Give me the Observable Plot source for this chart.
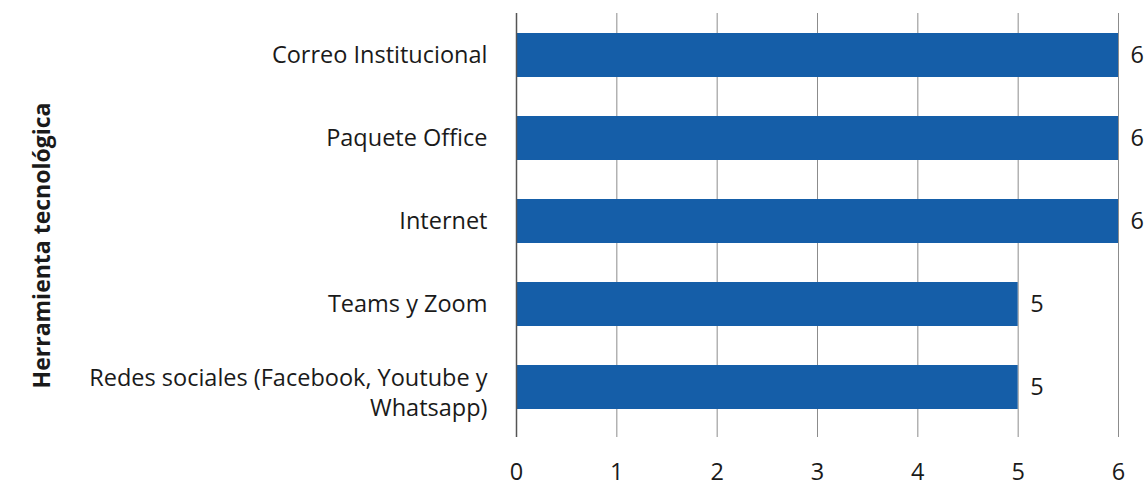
<!DOCTYPE html>
<html>
<head>
<meta charset="utf-8">
<script src="https://cdn.jsdelivr.net/npm/d3@7"></script>
<script src="https://cdn.jsdelivr.net/npm/@observablehq/plot@0.6"></script>
<style>
  html, body { margin: 0; padding: 0; background: #fff; }
  #chart svg { display: block; font-family: "Open Sans", "Noto Sans", sans-serif; }
</style>
</head>
<body>
<div id="chart"></div>
<script>
const categories = [
  "Correo Institucional",
  "Paquete Office",
  "Internet",
  "Teams y Zoom",
  "Redes sociales (Facebook, Youtube y\nWhatsapp)"
];
const values = [6, 6, 6, 5, 5];
const xTicks = [0, 1, 2, 3, 4, 5, 6];
const yTitle = "Herramienta tecnológica";

const data = categories.map((c, i) => ({ category: c, value: values[i] }));
const FS = 23.5;

const chart = Plot.plot({
  width: 1145,
  height: 480,
  marginLeft: 516,
  marginRight: 27,
  marginTop: 13,
  marginBottom: 43,
  style: { fontSize: FS + "px", color: "#1a1a1a", background: "#fff" },
  x: { domain: [0, 6], ticks: xTicks },
  y: { domain: categories, range: [13, 429], paddingInner: 0.47, paddingOuter: 0.24 },
  marks: [
    Plot.gridX(xTicks.filter(d => d > 0), { stroke: "#8c8c8c", strokeOpacity: 1, strokeWidth: 1 }),
    Plot.barX(data, { x: "value", y: "category", fill: "#155ea8" }),
    Plot.ruleX([0], { stroke: "#555", strokeWidth: 1.5 }),
    Plot.text(data, { x: "value", y: "category", text: d => String(d.value), dx: 12, textAnchor: "start", fontSize: FS, fill: "#1a1a1a" }),
    Plot.axisX(xTicks, { tickSize: 0, tickPadding: 26, label: null, fontSize: FS }),
    Plot.axisY(categories.slice(0, 4), { tickSize: 0, tickPadding: 29, fontSize: FS, label: null }),
    Plot.axisY(categories.slice(4), { tickSize: 0, tickPadding: 29, lineHeight: 1.28, fontSize: FS, dy: 4, label: null }),
    Plot.text([yTitle], { frameAnchor: "left", textAnchor: "middle", rotate: -90, dx: -474, dy: 20, fontWeight: "bold", fontSize: 23, fill: "#1a1a1a" })
  ]
});
document.getElementById("chart").appendChild(chart);
</script>
</body>
</html>
